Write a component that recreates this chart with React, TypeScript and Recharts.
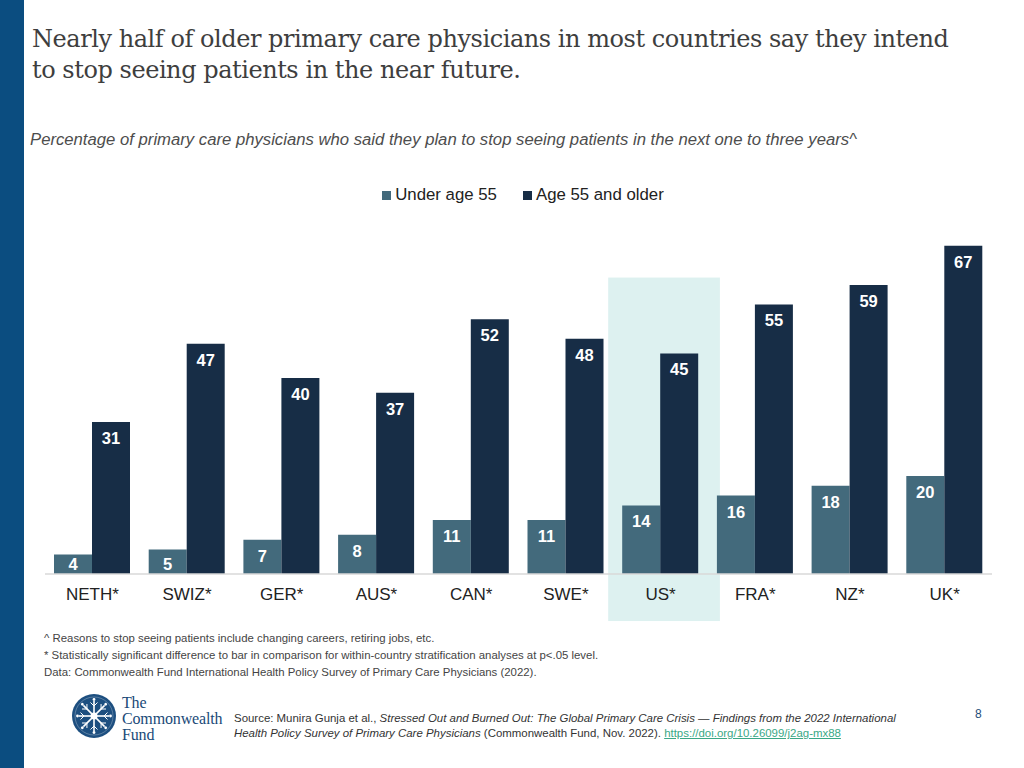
import React from 'react';
import { BarChart, Bar, XAxis, YAxis, LabelList, Legend, ReferenceArea } from 'recharts';

const countries = ['NETH*', 'SWIZ*', 'GER*', 'AUS*', 'CAN*', 'SWE*', 'US*', 'FRA*', 'NZ*', 'UK*'];
const underAge55 = [4, 5, 7, 8, 11, 11, 14, 16, 18, 20];
const age55Older = [31, 47, 40, 37, 52, 48, 45, 55, 59, 67];
const highlighted = 'US*';

const UNDER = '#436a7c';
const OLDER = '#172d46';
const BLUE = '#0b4d80';

const data = countries.map((c, i) => ({
  country: c,
  under: underAge55[i],
  older: age55Older[i],
}));

const sans = '"Liberation Sans", Arial, Helvetica, sans-serif';
const serif = '"DejaVu Serif", Georgia, serif';
const logoSerif = '"Liberation Serif", Georgia, "Times New Roman", serif';

function LegendContent() {
  const items = [
    { label: 'Under age 55', color: UNDER },
    { label: 'Age 55 and older', color: OLDER },
  ];
  return (
    <div style={{ display: 'flex', justifyContent: 'center', paddingLeft: 22, fontFamily: sans, fontSize: 16.8, color: '#222' }}>
      {items.map((it, i) => (
        <div key={it.label} style={{ display: 'flex', alignItems: 'center', marginLeft: i ? 26 : 0 }}>
          <span style={{ width: 9, height: 9, background: it.color, marginRight: 4, display: 'inline-block' }} />
          <span>{it.label}</span>
        </div>
      ))}
    </div>
  );
}

// value label near the top of the bar, pushed down a bit on very short bars
function ValueLabel(props: any) {
  const { x, y, width, height, value } = props;
  const cy = Math.min(y + 16, y + height - 9.5);
  return (
    <text x={x + width / 2} y={cy} dy="0.36em" textAnchor="middle" fill="#fff" fontSize={16.5} fontWeight="bold" fontFamily={sans}>
      {value}
    </text>
  );
}

// wider panel behind the highlighted country (runs past the band like in the slide)
function HighlightShape(props: any) {
  const { x, y, width, height } = props;
  return <rect x={x - 5} y={y} width={width + 17} height={height} fill="#ddf1f0" />;
}

function Logo() {
  const spokes = Array.from({ length: 8 }, (_, i) => i * 45);
  return (
    <svg width={46} height={46} viewBox="-23 -23 46 46">
      <circle r={22} fill="#1d4f80" />
      <circle r={19} fill="none" stroke="#ffffff" strokeOpacity={0.35} strokeWidth={0.8} />
      {spokes.map((a) => (
        <g key={a} transform={`rotate(${a})`}>
          <line x1={0} y1={-3} x2={0} y2={-15} stroke="#fff" strokeWidth={1.6} />
          <line x1={0} y1={-10} x2={-3.5} y2={-13.5} stroke="#fff" strokeWidth={1} />
          <line x1={0} y1={-10} x2={3.5} y2={-13.5} stroke="#fff" strokeWidth={1} />
          <circle cx={0} cy={-16.5} r={1.4} fill="#fff" />
        </g>
      ))}
      <circle r={3.5} fill="#fff" />
    </svg>
  );
}

export default function App() {
  return (
    <div style={{ position: 'absolute', top: 0, left: 0, width: 1024, height: 768, background: '#fff', overflow: 'hidden' }}>
      <div style={{ position: 'absolute', left: 0, top: 0, width: 24, height: 768, background: BLUE }} />

      <div style={{ position: 'absolute', left: 32, top: 24, fontFamily: serif, fontSize: 24, lineHeight: '31px', color: '#3e3e3e', letterSpacing: -0.45, whiteSpace: 'nowrap' }}>
        Nearly half of older primary care physicians in most countries say they intend
        <br />
        to stop seeing patients in the near future.
      </div>

      <div style={{ position: 'absolute', left: 30, top: 130, fontFamily: sans, fontStyle: 'italic', fontSize: 16.7, color: '#4d4d4d', whiteSpace: 'nowrap' }}>
        Percentage of primary care physicians who said they plan to stop seeing patients in the next one to three years^
      </div>

      <div style={{ position: 'absolute', left: 0, top: 0 }}>
        <BarChart
          width={1024}
          height={768}
          data={data}
          margin={{ top: 231, right: 32, bottom: 164, left: 45 }}
          barCategoryGap={9}
          barGap={0}
        >
          <ReferenceArea
            x1={highlighted}
            x2={highlighted}
            y1={-9.6}
            y2={60.5}
            ifOverflow="visible"
            shape={HighlightShape}
          />
          <XAxis
            dataKey="country"
            height={30}
            tickLine={false}
            tickSize={0}
            tickMargin={14}
            axisLine={{ stroke: '#d9d9d9', strokeWidth: 1.5 }}
            tick={{ fill: '#222', fontSize: 17, fontFamily: sans }}
            interval={0}
          />
          <YAxis hide domain={[0, 70]} />
          <Legend
            layout="horizontal"
            verticalAlign="middle"
            align="center"
            content={<LegendContent />}
            wrapperStyle={{ top: 185, left: 0, width: 1024 }}
          />
          <Bar dataKey="under" name="Under age 55" fill={UNDER} isAnimationActive={false}>
            <LabelList dataKey="under" content={ValueLabel} />
          </Bar>
          <Bar dataKey="older" name="Age 55 and older" fill={OLDER} isAnimationActive={false}>
            <LabelList dataKey="older" content={ValueLabel} />
          </Bar>
        </BarChart>
      </div>

      <div style={{ position: 'absolute', left: 44, top: 630, fontFamily: sans, fontSize: 11.4, lineHeight: '17px', color: '#444', whiteSpace: 'nowrap' }}>
        <div>^ Reasons to stop seeing patients include changing careers, retiring jobs, etc.</div>
        <div>* Statistically significant difference to bar in comparison for within-country stratification analyses at p&lt;.05 level.</div>
        <div>Data: Commonwealth Fund International Health Policy Survey of Primary Care Physicians (2022).</div>
      </div>

      <div style={{ position: 'absolute', left: 71, top: 693 }}>
        <Logo />
      </div>
      <div style={{ position: 'absolute', left: 122, top: 695, fontFamily: logoSerif, fontSize: 16, lineHeight: '16px', color: '#1a4a78', letterSpacing: -0.15, whiteSpace: 'nowrap' }}>
        <div>The</div>
        <div>Commonwealth</div>
        <div>Fund</div>
      </div>

      <div style={{ position: 'absolute', left: 234, top: 711, fontFamily: sans, fontSize: 11.45, lineHeight: '15px', color: '#333', whiteSpace: 'nowrap' }}>
        Source: Munira Gunja et al., <i>Stressed Out and Burned Out: The Global Primary Care Crisis — Findings from the 2022 International</i>
        <br />
        <i>Health Policy Survey of Primary Care Physicians</i> (Commonwealth Fund, Nov. 2022).{' '}
        <span style={{ color: '#3aa886', textDecoration: 'underline' }}>https://doi.org/10.26099/j2ag-mx88</span>
      </div>

      <div style={{ position: 'absolute', left: 975, top: 707, fontFamily: sans, fontSize: 12, color: '#1f4e79' }}>8</div>
    </div>
  );
}
